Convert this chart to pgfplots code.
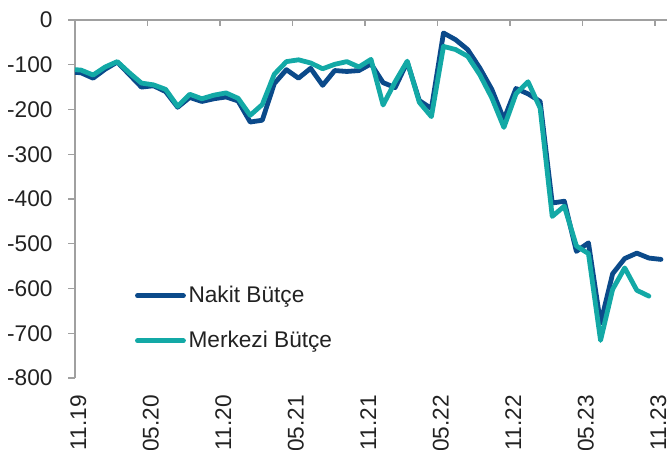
\documentclass[border=0pt]{standalone}
\usepackage{pgfplots}
\pgfplotsset{compat=1.18}
\usepackage{fontspec}
\setmainfont{Liberation Sans}
\definecolor{nakit}{HTML}{0B4A8A}
\definecolor{merkezi}{HTML}{13A9A6}
\definecolor{axgray}{HTML}{A0A0A0}
\definecolor{txt}{HTML}{222222}
\pgfplotstableread{
i N
-1 -116
0 -118
1 -130
2 -110
3 -94
4 -122
5 -150
6 -147
7 -160
8 -195
9 -173
10 -182
11 -176
12 -172
13 -181
14 -228
15 -224
16 -142
17 -111
18 -130
19 -108
20 -146
21 -113
22 -115
23 -113
24 -98
25 -140
26 -151
27 -94
28 -180
29 -198
30 -29
31 -44
32 -66
33 -107
34 -155
35 -222
36 -153
37 -165
38 -182
39 -409
40 -405
41 -517
42 -498
43 -678
44 -567
45 -533
46 -521
47 -532
48 -535
}\nakittable
\pgfplotstableread{
i M
-1 -110
0 -112
1 -123
2 -105
3 -93
4 -118
5 -141
6 -145
7 -155
8 -193
9 -166
10 -176
11 -168
12 -163
13 -175
14 -213
15 -189
16 -121
17 -93
18 -89
19 -96
20 -109
21 -99
22 -93
23 -105
24 -88
25 -190
26 -138
27 -92
28 -184
29 -216
30 -59
31 -66
32 -81
33 -122
34 -174
35 -240
36 -165
37 -138
38 -197
39 -439
40 -416
41 -505
42 -522
43 -716
44 -602
45 -554
46 -604
47 -617
}\merkezitable
\begin{document}
\fontsize{17pt}{20pt}\selectfont
\begin{tikzpicture}
\begin{axis}[
  name=ax,
  at={(0,0)}, anchor=south west,
  scale only axis,
  width=444pt, height=268.5pt,
  xmin=-0.5, xmax=48.5,
  ymin=-800, ymax=0,
  axis y line*=left,
  axis x line*=bottom,
  x axis line style={draw=none},
  y axis line style={axgray, line width=1.1pt},
  xtick={0,6,12,18,24,30,36,42,48},
  xticklabels={11.19,05.20,11.20,05.21,11.21,05.22,11.22,05.23,11.23},
  xtick style={draw=none},
  major x tick style={draw=none},
  xticklabel style={xshift=-2pt, yshift=-2pt, rotate=90, anchor=east, text=txt, font=\fontsize{17pt}{20pt}\selectfont},
  ytick={-800,-700,-600,-500,-400,-300,-200,-100,0},
  yticklabels={-800,-700,-600,-500,-400,-300,-200,-100,0},
  ytick style={axgray, line width=1.1pt},
  tick align=outside,
  major tick length=5pt,
  yticklabel style={xshift=-6pt, text=txt, font=\fontsize{17pt}{20pt}\selectfont},
  clip mode=individual,
  legend cell align=left,
  legend style={
    at={(0.101,0.262)}, anchor=north west,
    draw=none, fill=none, inner sep=0pt,
    row sep=17pt,
    font=\fontsize{17pt}{20pt}\selectfont,
    text=txt,
    nodes={inner xsep=2pt, inner ysep=1pt},
  },
  legend image code/.code={\draw[#1] (0pt,0pt) -- (34.5pt,0pt);},
]
\draw[axgray, line width=1.1pt] (axis cs:-0.5,0) -- (axis cs:48.5,0);
\pgfplotsinvokeforeach{5.5,11.5,17.5,23.5,29.5,35.5,41.5,47.5}{
  \draw[axgray, line width=1.1pt] (axis cs:#1,0) -- ([yshift=-4.5pt]axis cs:#1,0);
}
\addplot[nakit, line width=3.6pt, line join=round, line cap=round] table[x=i,y=N] {\nakittable};
\addlegendentry{Nakit Bütçe}
\addplot[merkezi, line width=3.6pt, line join=round, line cap=round] table[x=i,y=M] {\merkezitable};
\addlegendentry{Merkezi Bütçe}
\end{axis}
\pgfresetboundingbox
\path[use as bounding box] ([xshift=-56.25pt, yshift=-54pt]ax.south west) rectangle ([yshift=15pt]ax.north east);
\end{tikzpicture}
\end{document}
